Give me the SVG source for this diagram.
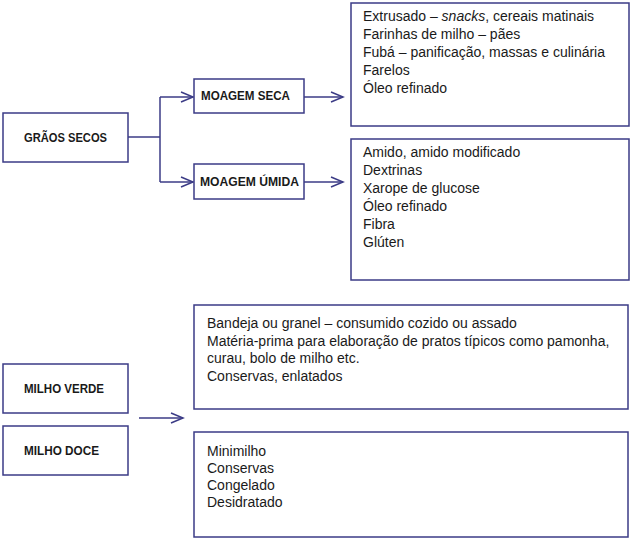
<svg xmlns="http://www.w3.org/2000/svg" width="632" height="541" viewBox="0 0 632 541">
<defs>
<style>
.box{fill:#fff;stroke:#3b3b86;stroke-width:1.5}
.ln{fill:none;stroke:#3b3b86;stroke-width:1.5}
.b{font-family:"Liberation Sans",Arial,sans-serif;font-weight:bold;font-size:12.5px;fill:#1a1a1a}
.t{font-family:"Liberation Sans",Arial,sans-serif;font-size:14px;fill:#1a1a1a}
</style>
<marker id="ar" markerUnits="userSpaceOnUse" markerWidth="16" markerHeight="14" refX="13" refY="6" orient="auto">
<path d="M1,1 L13,6 L1,11" fill="none" stroke="#3b3b86" stroke-width="1.5"/>
</marker>
</defs>
<rect width="632" height="541" fill="#fff"/>
<g id="connectors">
<path class="ln" d="M128,137 H160"/>
<path class="ln" d="M160,97 V182"/>
<path class="ln" d="M160,97 H193" marker-end="url(#ar)"/>
<path class="ln" d="M160,182 H193" marker-end="url(#ar)"/>
<path class="ln" d="M304,97 H343" marker-end="url(#ar)"/>
<path class="ln" d="M304,182 H343" marker-end="url(#ar)"/>
<path class="ln" d="M139,418 H183" marker-end="url(#ar)"/>
</g>
<g id="graos-secos">
<rect class="box" x="3" y="113" width="125" height="49"/>
<text class="b" x="24" y="142" textLength="83" lengthAdjust="spacingAndGlyphs">GRÃOS SECOS</text>
</g>
<g id="moagem-seca">
<rect class="box" x="194" y="79" width="110" height="34"/>
<text class="b" x="201" y="100" textLength="89" lengthAdjust="spacingAndGlyphs">MOAGEM SECA</text>
</g>
<g id="moagem-umida">
<rect class="box" x="194" y="164" width="110" height="35"/>
<text class="b" x="200" y="186" textLength="99" lengthAdjust="spacingAndGlyphs">MOAGEM ÚMIDA</text>
</g>
<g id="seca-produtos">
<rect class="box" x="351" y="3" width="278" height="123"/>
<text class="t" x="363" y="21">Extrusado – <tspan font-style="italic">snacks</tspan>, cereais matinais</text>
<text class="t" x="363" y="39">Farinhas de milho – pães</text>
<text class="t" x="363" y="57">Fubá – panificação, massas e culinária</text>
<text class="t" x="363" y="75">Farelos</text>
<text class="t" x="363" y="93">Óleo refinado</text>
</g>
<g id="umida-produtos">
<rect class="box" x="351" y="139" width="278" height="141"/>
<text class="t" x="363" y="157">Amido, amido modificado</text>
<text class="t" x="363" y="175">Dextrinas</text>
<text class="t" x="363" y="193">Xarope de glucose</text>
<text class="t" x="363" y="211">Óleo refinado</text>
<text class="t" x="363" y="229">Fibra</text>
<text class="t" x="363" y="247">Glúten</text>
</g>
<g id="milho-verde">
<rect class="box" x="3" y="364" width="125" height="49"/>
<text class="b" x="24" y="393" textLength="80" lengthAdjust="spacingAndGlyphs">MILHO VERDE</text>
</g>
<g id="milho-doce">
<rect class="box" x="3" y="426" width="125" height="49"/>
<text class="b" x="24" y="455" textLength="75" lengthAdjust="spacingAndGlyphs">MILHO DOCE</text>
</g>
<g id="verde-produtos">
<rect class="box" x="194" y="305" width="434" height="104"/>
<text class="t" x="207" y="328">Bandeja ou granel – consumido cozido ou assado</text>
<text class="t" x="207" y="346">Matéria-prima para elaboração de pratos típicos como pamonha,</text>
<text class="t" x="207" y="363">curau, bolo de milho etc.</text>
<text class="t" x="207" y="381">Conservas, enlatados</text>
</g>
<g id="doce-produtos">
<rect class="box" x="194" y="432" width="434" height="105"/>
<text class="t" x="207" y="456">Minimilho</text>
<text class="t" x="207" y="473">Conservas</text>
<text class="t" x="207" y="490">Congelado</text>
<text class="t" x="207" y="507">Desidratado</text>
</g>
</svg>
